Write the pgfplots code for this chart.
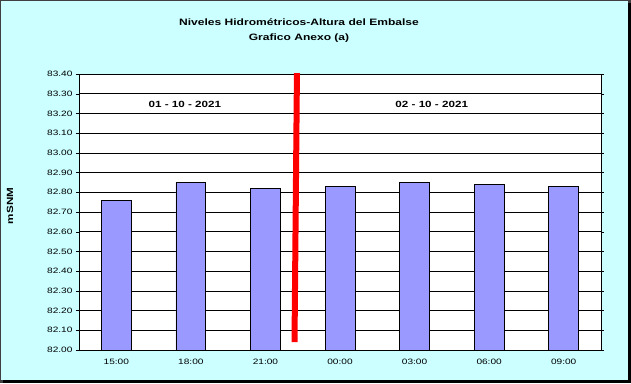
\documentclass[border=0pt]{standalone}
\usepackage{pgfplots}
\pgfplotsset{compat=1.18}
\usepackage{fontspec}
\setmainfont[FakeStretch=1.3]{Liberation Sans}
\definecolor{bgcyan}{HTML}{CCFFFF}
\definecolor{barblue}{HTML}{9999FF}
\begin{document}
\begin{tikzpicture}[x=1bp,y=1bp]
\fill[black!75] (0,0) rectangle (631,383);
\fill[black] (3,0) rectangle (631,380);
\fill[bgcyan] (1,3) rectangle (627.5,382);
\node[font=\fontsize{9.3}{15}\selectfont\bfseries, align=center] at (299,352) {Niveles Hidrométricos-Altura del Embalse\\Grafico Anexo (a)};
\node[font=\fontsize{9}{11}\selectfont\bfseries, rotate=90] at (10,177) {mSNM};
\begin{axis}[
  at={(79bp,33bp)}, anchor=south west,
  scale only axis, width=522bp, height=276bp,
  axis background/.style={fill=white},
  xmin=-0.5, xmax=6.5, ymin=82, ymax=83.4,
  ytick={82,82.1,...,83.41},
  yticklabel style={/pgf/number format/.cd, fixed, fixed zerofill, precision=2},
  /pgf/number format/assume math mode=true,
  ymajorgrids, major grid style={black, line width=0.6bp},
  xtick={0,...,6},
  xticklabels={15:00,18:00,21:00,00:00,03:00,06:00,09:00},
  extra x ticks={0.5,1.5,...,5.5},
  extra x tick labels={},
  extra x tick style={major tick length=4bp, tick style={black}, grid=none},
  xtick style={draw=none},
  ytick style={black},
  tick align=outside, major tick length=3bp,
  axis line style={black, line width=0.8bp},
  tick label style={font=\fontsize{7.8}{9}\selectfont},
  xticklabel style={yshift=-3bp},
  ybar, bar width=0.4,
]
\addplot[fill=barblue, draw=black, line width=0.7bp] coordinates {(0,82.76) (1,82.85) (2,82.82) (3,82.83) (4,82.85) (5,82.84) (6,82.83)};
\addplot[sharp plot, red, line width=6bp, forget plot] coordinates {(2.39,82.04) (2.423,83.42)};
\node[font=\fontsize{9}{11}\selectfont\bfseries] at (axis cs:0.92,83.248) {01 - 10 - 2021};
\node[font=\fontsize{9}{11}\selectfont\bfseries] at (axis cs:4.23,83.248) {02 - 10 - 2021};
\end{axis}
\end{tikzpicture}
\end{document}
